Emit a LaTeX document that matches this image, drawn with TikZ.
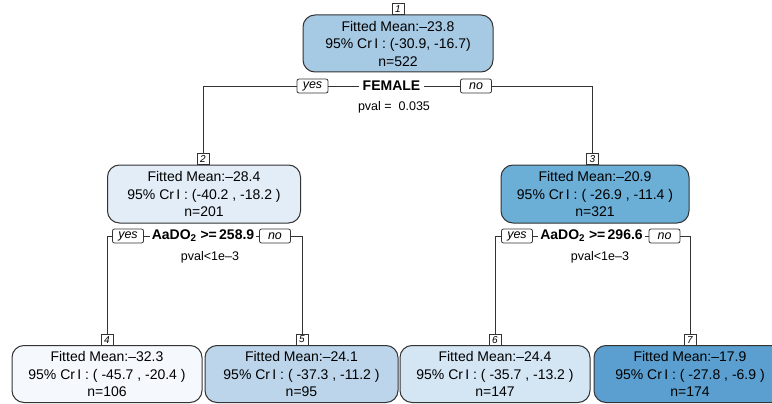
\documentclass[tikz,border=0pt]{standalone}
\usepackage{fontspec}
\setmainfont{Liberation Sans}
\definecolor{edgegray}{HTML}{333333}
\definecolor{cA}{HTML}{A6C9E4}
\definecolor{cB}{HTML}{E2EDF8}
\definecolor{cC}{HTML}{6BAED6}
\definecolor{cD}{HTML}{F5F9FE}
\definecolor{cE}{HTML}{BCD5EA}
\definecolor{cF}{HTML}{D4E5F4}
\definecolor{cG}{HTML}{5A9FCF}
\tikzset{
  tnode/.style={draw=edgegray, line width=1pt, rounded corners=12pt, minimum width=190pt,
    minimum height=57pt, align=center, inner sep=0pt, font=\fontsize{14}{17.5}\selectfont},
  numbox/.style={draw=edgegray, line width=0.8pt, fill=white, anchor=south, inner sep=0pt,
    minimum width=12pt, minimum height=11pt, font=\fontsize{10}{10}\selectfont\itshape},
  yesno/.style={draw=edgegray, line width=0.8pt, fill=white, rounded corners=2pt, inner sep=0pt,
    minimum width=31pt, minimum height=14pt, font=\fontsize{12.5}{12.5}\selectfont\itshape},
  splitlab/.style={inner xsep=4pt, inner ysep=1pt, font=\fontsize{14}{14}\selectfont\bfseries},
  pvallab/.style={inner sep=0pt, font=\fontsize{12.5}{12.5}\selectfont},
  conn/.style={draw=edgegray, line width=0.8pt}
}
\begin{document}
\begin{tikzpicture}[x=1pt,y=-1pt]
\useasboundingbox (0,0) rectangle (772,404);
\clip (0,0) rectangle (772,404);
% nodes
\node[tnode, fill=cA] (n1) at (398,43.5) {Fitted Mean:–23.8\\95\% Cr\,I : (-30.9, -16.7)\\n=522};
\node[tnode, fill=cB, minimum width=193pt, minimum height=58pt] (n2) at (204,194) {Fitted Mean:–28.4\\95\% Cr\,I : (-40.2 , -18.2 )\\n=201};
\node[tnode, fill=cC, minimum width=188pt, minimum height=58pt] (n3) at (595,194) {Fitted Mean:–20.9\\95\% Cr\,I : ( -26.9 , -11.4 )\\n=321};
\node[tnode, fill=cD] (n4) at (107,374) {Fitted Mean:–32.3\\95\% Cr\,I : ( -45.7 ,  -20.4 )\\n=106};
\node[tnode, fill=cE, minimum width=193pt] (n5) at (301.5,374) {Fitted Mean:–24.1\\95\% Cr\,I : ( -37.3 , -11.2 )\\n=95};
\node[tnode, fill=cF] (n6) at (495,374) {Fitted Mean:–24.4\\95\% Cr\,I : ( -35.7 ,  -13.2 )\\n=147};
\node[tnode, fill=cG, minimum width=192pt] (n7) at (690,374) {Fitted Mean:–17.9\\95\% Cr\,I : ( -27.8 , -6.9 )\\n=174};
% number labels
\node[numbox] (lab1) at (398,15) {1};
\node[numbox] (lab2) at (203,165) {2};
\node[numbox] (lab3) at (592.5,165) {3};
\node[numbox] (lab4) at (107,345.5) {4};
\node[numbox] (lab5) at (302,345.5) {5};
\node[numbox] (lab6) at (495,345.5) {6};
\node[numbox] (lab7) at (690,345.5) {7};
% split 1
\node[yesno] (yes1) at (312.5,86) {yes};
\node[splitlab] (sp1) at (391.5,86) {FEMALE};
\node[yesno] (no1) at (476,86) {no};
\node[pvallab] (pv1) at (394,107) {pval =~~0.035};
% split 2
\node[yesno] (yes2) at (128,236) {yes};
\node[splitlab, inner xsep=2pt] (sp2) at (203,236) {AaDO\textsubscript{2} >=\,258.9};
\node[yesno] (no2) at (275,236) {no};
\node[pvallab] (pv2) at (210,257) {pval<1e–3};
% split 3
\node[yesno] (yes3) at (517,236) {yes};
\node[splitlab, inner xsep=2pt] (sp3) at (591.5,236) {AaDO\textsubscript{2} >=\,296.6};
\node[yesno] (no3) at (664.5,236) {no};
\node[pvallab] (pv3) at (600,257) {pval<1e–3};
% connectors
\draw[conn] (yes1.west) -| (lab2.north);
\draw[conn] (yes1.east) -- (sp1.west);
\draw[conn] (sp1.east) -- (no1.west);
\draw[conn] (no1.east) -| (lab3.north);
\draw[conn] (yes2.west) -| (lab4.north);
\draw[conn] (yes2.east) -- (sp2.west);
\draw[conn] (sp2.east) -- (no2.west);
\draw[conn] (no2.east) -| (lab5.north);
\draw[conn] (yes3.west) -| (lab6.north);
\draw[conn] (yes3.east) -- (sp3.west);
\draw[conn] (sp3.east) -- (no3.west);
\draw[conn] (no3.east) -| (lab7.north);
\end{tikzpicture}
\end{document}
